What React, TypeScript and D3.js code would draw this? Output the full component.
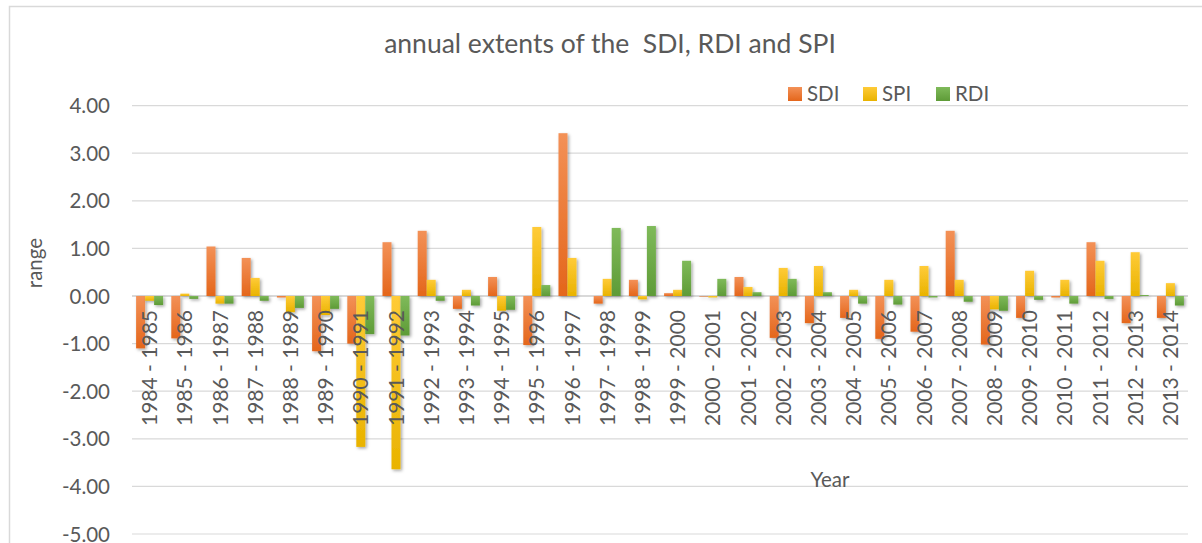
import React from "react";
import * as d3 from "d3";

const categories = [
  "1984 - 1985", "1985 - 1986", "1986 - 1987", "1987 - 1988", "1988 - 1989",
  "1989 - 1990", "1990 - 1991", "1991 - 1992", "1992 - 1993", "1993 - 1994",
  "1994 - 1995", "1995 - 1996", "1996 - 1997", "1997 - 1998", "1998 - 1999",
  "1999 - 2000", "2000 - 2001", "2001 - 2002", "2002 - 2003", "2003 - 2004",
  "2004 - 2005", "2005 - 2006", "2006 - 2007", "2007 - 2008", "2008 - 2009",
  "2009 - 2010", "2010 - 2011", "2011 - 2012", "2012 - 2013", "2013 - 2014",
];

const sdi = [
  -1.10, -0.89, 1.04, 0.80, -0.03, -1.16, -1.00, 1.13, 1.37, -0.27,
  0.40, -1.03, 3.42, -0.16, 0.34, 0.06, -0.01, 0.40, -0.88, -0.57,
  -0.46, -0.90, -0.75, 1.37, -1.02, -0.46, -0.03, 1.13, -0.57, -0.46,
];
const spi = [
  -0.10, 0.05, -0.16, 0.38, -0.34, -0.40, -3.17, -3.64, 0.34, 0.13,
  -0.31, 1.45, 0.80, 0.36, -0.07, 0.13, -0.03, 0.19, 0.59, 0.63,
  0.13, 0.34, 0.63, 0.34, -0.28, 0.53, 0.34, 0.74, 0.92, 0.27,
];
const rdi = [
  -0.19, -0.06, -0.16, -0.10, -0.25, -0.27, -0.80, -0.83, -0.10, -0.20,
  -0.29, 0.23, 0.00, 1.43, 1.47, 0.74, 0.36, 0.08, 0.36, 0.08,
  -0.16, -0.18, -0.03, -0.12, -0.31, -0.08, -0.16, -0.06, 0.02, -0.20,
];

const seriesNames = ["SDI", "SPI", "RDI"];
const seriesValues = [sdi, spi, rdi];
const yTicks = [4, 3, 2, 1, 0, -1, -2, -3, -4, -5];

const gradients = [
  { id: "gSDI", top: "#F39157", bottom: "#E4661B" },
  { id: "gSPI", top: "#FFCB38", bottom: "#E9B300" },
  { id: "gRDI", top: "#7FBA5A", bottom: "#5E9B37" },
];

const FONT = "Lato, 'Open Sans', sans-serif";
const TXT = "#595959";

export default function App() {
  const W = 1202;
  const H = 543;
  const x = d3
    .scaleBand<string>()
    .domain(categories)
    .range([132, 1188])
    .paddingInner(0.233)
    .paddingOuter(0.1165);
  const xs = d3.scaleBand<string>().domain(seriesNames).range([0, x.bandwidth()]);
  const y = d3.scaleLinear().domain([-5, 4]).range([534, 105.6]);

  return (
    <svg
      width={W}
      height={H}
      style={{ position: "absolute", left: 0, top: 0, background: "#fff" }}
    >
      <defs>
        {gradients.map((g) => (
          <linearGradient key={g.id} id={g.id} x1="0" y1="0" x2="0" y2="1">
            <stop offset="0" stopColor={g.top} />
            <stop offset="1" stopColor={g.bottom} />
          </linearGradient>
        ))}
        <filter id="shadow" x="-50%" y="-10%" width="200%" height="130%">
          <feDropShadow dx="1.5" dy="1.5" stdDeviation="1.8" floodColor="#000" floodOpacity="0.35" />
        </filter>
      </defs>
      <rect x={0} y={0} width={W} height={H} fill="#fff" />
      {/* chart frame */}
      <path d={`M9.5,${H + 2}V6.5H${W + 2}`} fill="none" stroke="#D9D9D9" strokeWidth={1.5} />

      {/* title */}
      <text x={610} y={53} textAnchor="middle" fontFamily={FONT} fontSize={26.5} fill={TXT}>
        {"annual extents of the\u00A0 SDI, RDI and SPI"}
      </text>

      {/* legend */}
      {seriesNames.map((s, i) => {
        const lx = [788, 863, 936][i];
        return (
          <g key={s}>
            <rect x={lx} y={87} width={14} height={14} fill={`url(#${gradients[i].id})`} />
            <text x={lx + 19} y={101} fontFamily={FONT} fontSize={20.5} fill={TXT}>
              {s}
            </text>
          </g>
        );
      })}

      {/* gridlines */}
      {yTicks.map((t) => (
        <line
          key={t}
          x1={132}
          x2={1188}
          y1={y(t)}
          y2={y(t)}
          stroke="#D9D9D9"
          strokeWidth={t === 0 ? 2 : 1.2}
        />
      ))}

      {/* y tick labels */}
      {yTicks.map((t) => (
        <text
          key={t}
          x={110}
          y={y(t) + 7.5}
          textAnchor="end"
          fontFamily={FONT}
          fontSize={20.5}
          fill={TXT}
        >
          {t.toFixed(2)}
        </text>
      ))}

      {/* bars */}
      {seriesNames.map((s, si) => (
        <g key={s} filter="url(#shadow)">
          {categories.map((c, ci) => {
            const v = seriesValues[si][ci];
            const y0 = y(0);
            const yv = y(v);
            return (
              <rect
                key={c}
                x={(x(c) as number) + (xs(s) as number)}
                y={Math.min(y0, yv)}
                width={xs.bandwidth()}
                height={Math.abs(yv - y0)}
                fill={`url(#${gradients[si].id})`}
              />
            );
          })}
        </g>
      ))}

      {/* x labels */}
      {categories.map((c) => (
        <text
          key={c}
          transform={`translate(${(x(c) as number) + x.bandwidth() / 2},310) rotate(-90)`}
          textAnchor="end"
          dy="0.36em"
          fontFamily={FONT}
          fontSize={21}
          fill={TXT}
        >
          {c}
        </text>
      ))}

      {/* axis titles */}
      <text
        transform="translate(35,263) rotate(-90)"
        textAnchor="middle"
        dy="0.36em"
        fontFamily={FONT}
        fontSize={20.5}
        fill={TXT}
      >
        range
      </text>
      <text x={830} y={487} textAnchor="middle" fontFamily={FONT} fontSize={20.5} fill={TXT}>
        Year
      </text>
    </svg>
  );
}
